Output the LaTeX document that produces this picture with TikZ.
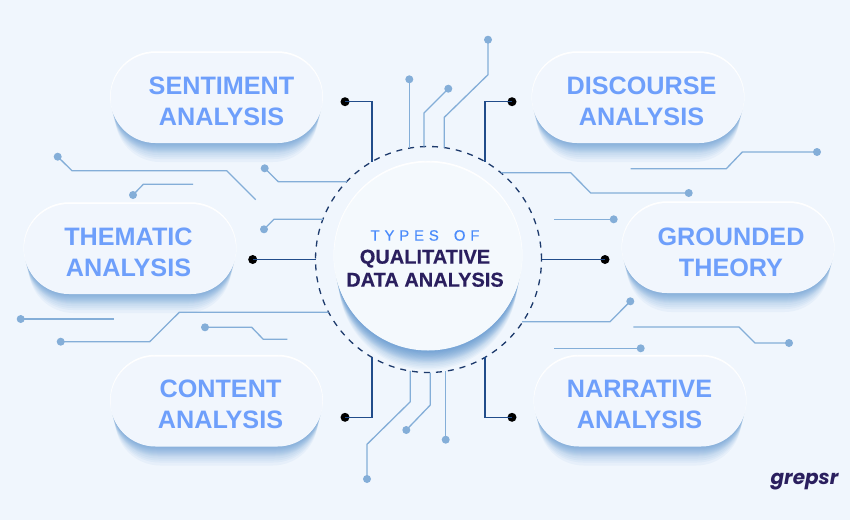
\documentclass[tikz,border=0pt]{standalone}
\usepackage{fontspec}
\setmainfont{Liberation Sans}
\newfontfamily\logofont{Poppins}
\usetikzlibrary{positioning}
\definecolor{pagebg}{HTML}{F0F6FD}
\definecolor{bodybg}{HTML}{F1F6FD}
\definecolor{hubbg}{HTML}{F4F9FD}
\definecolor{shadeblue}{HTML}{3F82C8}
\definecolor{tracelight}{HTML}{84AED8}
\definecolor{tracedark}{HTML}{214C8A}
\definecolor{ringnavy}{HTML}{1D3A6C}
\definecolor{pilltext}{HTML}{6E9FFB}
\definecolor{typesblue}{HTML}{4A8BFB}
\definecolor{titlenavy}{HTML}{2A1F5E}
\begin{document}
\begin{tikzpicture}[x=1pt,y=-1pt,
			pill/.style = {shape=rectangle, rounded corners=45pt, fill=bodybg,
				minimum width=212pt, minimum height=90pt, inner sep=0pt,
				preaction={fill=white, draw=white, line width=.9pt, transform canvas={yshift=1.3pt}}},
			pilllabel/.style = {align=center, text=pilltext, inner sep=0pt,
				font=\fontsize{25.2}{31}\selectfont\bfseries},
			hub/.style = {shape=circle, fill=hubbg, minimum size=188pt, inner sep=0pt,
				preaction={fill=white, draw=white, line width=.9pt, transform canvas={yshift=1.3pt}}},
			ring/.style = {shape=circle, draw=ringnavy, line width=1.3pt, minimum size=226pt,
				inner sep=0pt, outer sep=0pt, dash pattern=on 6pt off 6pt},
			tiplight/.style = {shape=circle, fill=tracelight, minimum size=8pt, inner sep=0pt},
			tipdark/.style = {shape=circle, fill=black, minimum size=9pt, inner sep=0pt},
			tracethin/.style = {draw=tracelight, line width=1.3pt},
			tracethick/.style = {draw=tracedark, line width=1.5pt}]
			\useasboundingbox (0,0) rectangle (850,520);
			\fill[pagebg] (0,0) rectangle (850,520);
			\foreach \cx/\cy in {216.5/98,638/98,130/249,728/248,216.5/401.5,640/401.5}
				\foreach \s in {1,2,3,4,5,6,7,8,9,10,12,14,16,19}
					\fill[shadeblue, opacity=.055, rounded corners=45pt] ({\cx-106+.25*\s},{\cy-45+\s}) rectangle ({\cx+106-.25*\s},{\cy+45+\s});
			\foreach \s in {1,2,3,4,5,6,7,8,9,10,11,12,13,14,15,16,18,20,22,24}
				\fill[shadeblue, opacity=.05] (428,{256.5+\s}) circle ({94-.2*\s});
			\node[pill] (sentiment) at (216.5,98) {};
			\node[pill] (discourse) at (638,98) {};
			\node[pill] (thematic) at (130,249) {};
			\node[pill] (grounded) at (728,248) {};
			\node[pill] (content) at (216.5,401.5) {};
			\node[pill] (narrative) at (640,401.5) {};
			\node[hub] (center) at (428,256.5) {};
			\node[ring] (ringline) at (428.5,259.5) {};
			\node[pilllabel] (sentimentlabel) at (221.5,101) {SENTIMENT\\ANALYSIS};
			\node[pilllabel] (discourselabel) at (641.5,101) {DISCOURSE\\ANALYSIS};
			\node[pilllabel] (thematiclabel) at (128.5,252) {THEMATIC\\ANALYSIS};
			\node[pilllabel] (groundedlabel) at (731,252) {GROUNDED\\THEORY};
			\node[pilllabel] (contentlabel) at (220.5,404) {CONTENT\\ANALYSIS};
			\node[pilllabel] (narrativelabel) at (639.5,404) {NARRATIVE\\ANALYSIS};
			\node[align=center, inner sep=0pt, text=titlenavy, font=\fontsize{20}{23}\selectfont\bfseries\addfontfeatures{FakeBold=.4}] (centerlabel) at (425,258.5) {{\color{typesblue}\fontsize{15}{23}\selectfont\mdseries\addfontfeatures{LetterSpace=32}TYPES\hspace{6pt} OF}\\QUALITATIVE\\DATA ANALYSIS};
			\node[tipdark] (tipsentiment) at (345,101.7) {};
			\node[tipdark] (tipdiscourse) at (512,101.7) {};
			\node[tipdark] (tipthematic) at (252.7,259.5) {};
			\node[tipdark] (tipgrounded) at (605,259.5) {};
			\node[tipdark] (tipcontent) at (345,417.3) {};
			\node[tipdark] (tipnarrative) at (512,417.3) {};
			\draw[tracethick] (tipsentiment.center) -| (ringline.120);
			\draw[tracethick] (tipdiscourse.center) -| (ringline.60);
			\draw[tracethick] (tipthematic.center) -- (ringline.180);
			\draw[tracethick] (tipgrounded.center) -- (ringline.0);
			\draw[tracethick] (tipcontent.center) -| (ringline.240);
			\draw[tracethick] (tipnarrative.center) -| (ringline.300);
			\node[tiplight] (a1) at (57.7,156.7) {};
			\node[tiplight] (a2) at (133,195) {};
			\node[tiplight] (a3) at (264.7,168.3) {};
			\node[tiplight] (a4) at (264,229.3) {};
			\node[tiplight] (b1) at (409.3,79.3) {};
			\node[tiplight] (b2) at (448.3,88.7) {};
			\node[tiplight] (b3) at (488,39.7) {};
			\node[tiplight] (c1) at (688.7,193) {};
			\node[tiplight] (c2) at (817,152) {};
			\node[tiplight] (c3) at (613.7,219.3) {};
			\node[tiplight] (d1) at (20.7,319) {};
			\node[tiplight] (d2) at (60.7,341.7) {};
			\node[tiplight] (d3) at (205,327.3) {};
			\node[tiplight] (e1) at (367,479) {};
			\node[tiplight] (e2) at (406.3,430) {};
			\node[tiplight] (e3) at (445.7,439.7) {};
			\node[tiplight] (f1) at (630.3,301.3) {};
			\node[tiplight] (f2) at (789,343) {};
			\node[tiplight] (f3) at (640.7,348.3) {};
			\coordinate (a1end) at (255.7,199.7);
			\coordinate (a2end) at (193,184.3);
			\coordinate (c2end) at (630.7,168.7);
			\coordinate (c3end) at (554,219.3);
			\coordinate (d1end) at (114.3,319);
			\coordinate (d3end) at (287.3,339.3);
			\coordinate (f2end) at (633.3,327);
			\coordinate (f3end) at (554,348.3);
			\draw[tracethin] (a1.center) -- (72,170.7) -- (226.7,170.7) -- (a1end);
			\draw[tracethin] (a2.center) -- (143.3,184.3) -- (a2end);
			\draw[tracethin] (a3.center) -- (278.3,181.7) -- (ringline.136 |- 278.3,181.7);
			\draw[tracethin] (a4.center) -- (274,219.3) -- (ringline.159 |- 274,219.3);
			\draw[tracethin] (b1.center) -- (b1 |- ringline.99.7);
			\draw[tracethin] (b2.center) -- (424,113) -- (424,113 |- ringline.92.3);
			\draw[tracethin] (b3.center) -- (488,74.7) -- (444.3,117.3) -- (444.3,117.3 |- ringline.82);
			\draw[tracethin] (c1.center) -- (590.7,193) -- (570.7,172.7) -- (ringline.50 |- 570.7,172.7);
			\draw[tracethin] (c2.center) -- (742.3,152) -- (726.3,168.7) -- (c2end);
			\draw[tracethin] (c3.center) -- (c3end);
			\draw[tracethin] (d1.center) -- (d1end);
			\draw[tracethin] (d2.center) -- (149.7,341.7) -- (179.3,312.3) -- (ringline.208 |- 179.3,312.3);
			\draw[tracethin] (d3.center) -- (251.7,327.3) -- (263.3,339.3) -- (d3end);
			\draw[tracethin] (e1.center) -- (367,444.3) -- (410.3,401.7) -- (410.3,401.7 |- ringline.260.9);
			\draw[tracethin] (e2.center) -- (430.3,405) -- (430.3,405 |- ringline.270.9);
			\draw[tracethin] (e3.center) -- (e3 |- ringline.278.7);
			\draw[tracethin] (f1.center) -- (610,321.7) -- (ringline.326 |- 610,321.7);
			\draw[tracethin] (f2.center) -- (755,343) -- (739,327) -- (f2end);
			\draw[tracethin] (f3.center) -- (f3end);
			\node[inner sep=0pt, text=titlenavy, font=\logofont\fontsize{20}{20}\selectfont\bfseries\itshape] (logo) at (804.5,482) {grepsr};
\end{tikzpicture}
\end{document}
